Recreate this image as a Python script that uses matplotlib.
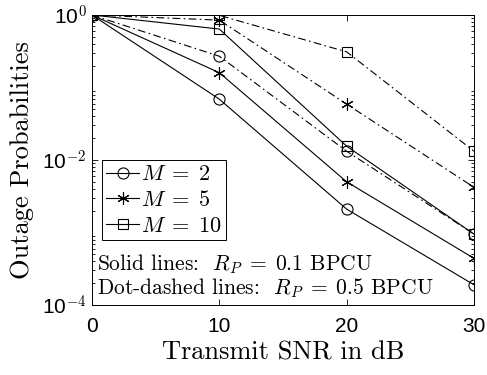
import numpy as np
import matplotlib
matplotlib.use('Agg')
import matplotlib.pyplot as plt
from matplotlib.ticker import FixedLocator, FuncFormatter, LogLocator, NullFormatter

matplotlib.rcParams['mathtext.fontset'] = 'cm'
matplotlib.rcParams['xtick.direction'] = 'in'
matplotlib.rcParams['ytick.direction'] = 'in'

# transmit SNR (dB)
snr = [0, 10, 20, 30]

# solid lines: R_P = 0.1 BPCU
m2_solid = [1.0, 0.069, 0.0021, 0.00019]
m5_solid = [1.0, 0.16, 0.0050, 0.00044]
m10_solid = [1.0, 0.64, 0.0155, 0.00095]

# dot-dashed lines: R_P = 0.5 BPCU
m2_dd = [1.0, 0.27, 0.0132, 0.00095]
m5_dd = [1.0, 0.85, 0.059, 0.0042]
m10_dd = [1.0, 0.99, 0.31, 0.0132]

labels = ['$M\\;=\\;2$', '$M\\;=\\;5$', '$M\\;=\\;10$']
markers = ['o', (6, 2, 0), 's']
msizes = [8, 9, 6.5]

serif = 'cmr10'
dashdot = (0, (7, 3, 1.5, 3))

fig = plt.figure(figsize=(4.87, 3.75), dpi=100)
ax = fig.add_axes([92 / 487, 70 / 375, 382 / 487, 290 / 375])

for y, mk, ms, lab in zip([m2_solid, m5_solid, m10_solid], markers, msizes, labels):
    ax.plot(snr, y, color='k', lw=0.8, marker=mk, ms=ms, mfc='none', mec='k',
            mew=0.8, label=lab)
for y, mk, ms in zip([m2_dd, m5_dd, m10_dd], markers, msizes):
    ax.plot(snr, y, color='k', lw=0.8, ls=dashdot, marker=mk, ms=ms, mfc='none',
            mec='k', mew=0.8)

ax.set_yscale('log')
ax.set_xlim(0, 30)
ax.set_ylim(1e-4, 1)
ax.xaxis.set_major_locator(FixedLocator(snr))
ax.yaxis.set_major_locator(FixedLocator([1e-4, 1e-2, 1]))
ax.yaxis.set_minor_locator(LogLocator(base=10, subs=np.arange(2, 10)))
ax.yaxis.set_minor_formatter(NullFormatter())


def pow_fmt(v, pos):
    e = int(round(np.log10(v)))
    return '10$^{\\mathsf{%d}}$' % e


ax.yaxis.set_major_formatter(FuncFormatter(pow_fmt))
ax.tick_params(which='both', top=True, right=True, labelsize=15, length=4,
               width=0.6)
ax.tick_params(axis='x', pad=9)
ax.tick_params(axis='y', pad=4)
ax.tick_params(which='minor', length=2.5)
for t in ax.get_xticklabels() + ax.get_yticklabels():
    t.set_family('Liberation Sans')
for s in ax.spines.values():
    s.set_linewidth(0.7)

ax.set_xlabel('Transmit SNR in dB', family=serif, fontsize=19, labelpad=3)
ax.set_ylabel('Outage Probabilities', family=serif, fontsize=19, labelpad=6)

leg = ax.legend(loc='upper left', bbox_to_anchor=(10 / 382, 145 / 290), fontsize=16,
                handlelength=1.45, handletextpad=0.1, borderpad=0.2,
                labelspacing=0.25, borderaxespad=0, fancybox=False,
                edgecolor='k', framealpha=1)
leg.get_frame().set_linewidth(0.7)

ax.text(0.012, 0.141, 'Solid lines:  $R_P\\;=\\;0.1$ BPCU', transform=ax.transAxes,
        family=serif, fontsize=15.5, va='center')
ax.text(0.012, 0.057, 'Dot-dashed lines:  $R_P\\;=\\;0.5$ BPCU', transform=ax.transAxes,
        family=serif, fontsize=15.5, va='center')

plt.savefig('out.png', dpi=100)
